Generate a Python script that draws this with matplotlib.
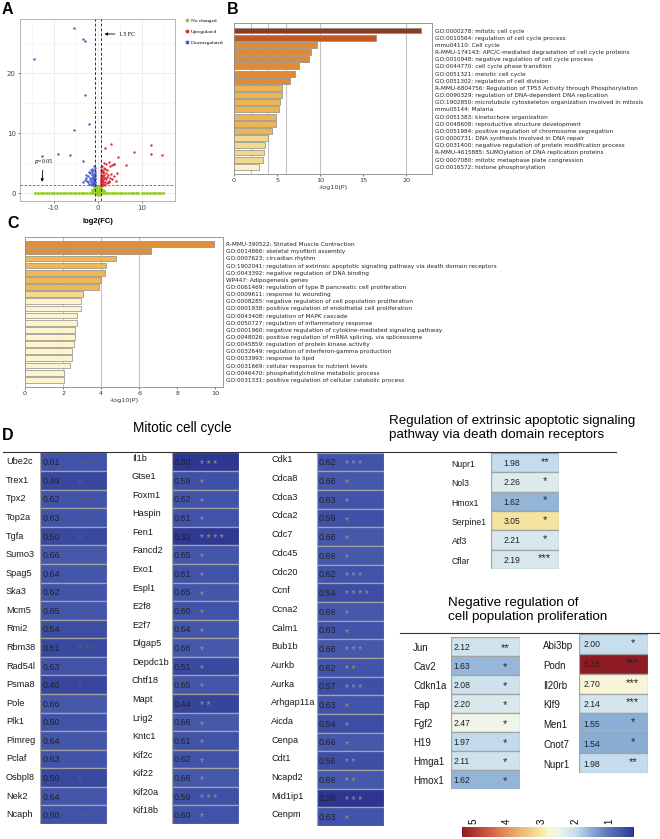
import numpy as np
import matplotlib
matplotlib.use('Agg')
import matplotlib.pyplot as plt
from matplotlib.colors import LinearSegmentedColormap, Normalize
from matplotlib.lines import Line2D
from matplotlib.cm import ScalarMappable

# ---------------- DATA ----------------
# Panel A volcano (log2FC, -log10 p)
down_pts = [(-5.4, 27.5), (-3.5, 25.7), (-2.9, 25.4), (-14.5, 22.4), (-2.9, 16.3),
            (-5.5, 10.6), (-2.0, 11.5), (-12.7, 6.2), (-9.0, 6.6), (-6.4, 6.4), (-3.3, 5.4),
            (-0.62, 1.4), (-0.7, 1.6), (-0.75, 1.9), (-0.8, 2.2), (-0.66, 2.6), (-0.9, 1.5),
            (-0.95, 2.0), (-1.0, 2.4), (-1.1, 1.7), (-0.72, 3.0), (-0.85, 2.8), (-1.2, 2.1),
            (-1.3, 1.5), (-1.45, 2.5), (-1.6, 1.9), (-0.68, 1.8), (-0.78, 3.4), (-1.05, 3.2),
            (-1.15, 2.7), (-1.35, 3.0), (-1.8, 2.2), (-2.0, 1.6), (-2.2, 2.9), (-2.5, 2.0),
            (-0.64, 2.3), (-0.88, 1.35), (-1.25, 3.6), (-1.5, 3.9), (-1.7, 2.6), (-1.9, 3.3),
            (-2.3, 1.8), (-2.7, 2.5), (-3.0, 2.2), (-0.7, 4.2), (-0.95, 4.6), (-1.4, 4.1),
            (-1.1, 3.8), (-2.1, 3.5), (-0.8, 1.45), (-1.6, 1.4), (-3.3, 1.9), (-2.6, 3.1),
            (-1.2, 1.3), (-0.66, 3.7), (-1.0, 1.55), (-0.9, 2.3), (-1.3, 2.4), (-0.75, 2.9)]
up_pts = [(3.0, 8.2), (1.7, 7.6), (12.1, 8.0), (12.1, 6.5), (14.6, 6.4), (8.1, 6.9),
          (4.5, 6.1), (6.4, 4.7), (3.6, 4.9), (3.7, 4.8),
          (0.62, 1.4), (0.7, 1.7), (0.75, 2.0), (0.8, 2.3), (0.66, 2.7), (0.9, 1.5),
          (0.95, 2.1), (1.0, 2.5), (1.1, 1.8), (0.72, 3.1), (0.85, 2.9), (1.2, 2.2),
          (1.3, 1.6), (1.45, 2.6), (1.6, 1.9), (0.68, 1.8), (0.78, 3.5), (1.05, 3.3),
          (1.15, 2.8), (1.35, 3.1), (1.8, 2.3), (2.0, 1.7), (2.2, 3.0), (2.5, 2.0),
          (0.64, 2.4), (0.88, 1.35), (1.25, 3.7), (1.5, 4.0), (1.7, 2.6), (1.9, 3.4),
          (2.3, 1.8), (2.7, 2.5), (3.0, 3.2), (0.7, 4.3), (0.95, 3.9), (1.4, 4.2),
          (1.1, 3.6), (2.1, 3.8), (0.8, 1.45), (1.6, 1.4), (3.3, 2.4), (2.6, 1.9),
          (1.2, 1.3), (0.66, 3.8), (1.0, 1.55), (3.6, 2.8), (4.0, 2.1), (2.8, 4.5),
          (1.9, 4.9), (3.2, 4.7), (2.4, 5.2), (4.4, 3.4), (1.3, 5.0), (0.9, 4.6), (2.0, 2.7)]
nochange_pts = [(-1.4, 0.1), (-1.2, 0.3), (-1.0, 0.6), (-0.8, 0.9), (-0.6, 1.1), (-0.4, 0.5),
                (-0.2, 0.2), (0.0, 0.8), (0.2, 1.2), (0.4, 0.4), (0.6, 0.7), (0.8, 1.0),
                (1.0, 0.3), (1.2, 0.6), (1.4, 0.1), (-0.5, 0.0), (0.5, 0.0), (0.0, 0.0),
                (-0.3, 1.0), (0.3, 0.9), (-0.9, 0.2), (0.9, 0.2), (-0.1, 0.5), (0.1, 0.3),
                (-0.7, 0.4), (0.7, 0.4), (0.0, 1.2), (-0.2, 1.25), (0.25, 0.6), (-0.25, 0.7),
                (-1.1, 0.0), (1.1, 0.0), (0.0, -0.3), (-0.4, -0.2), (0.4, -0.2), (-0.6, 0.75),
                (0.6, 1.2), (-1.3, 0.45), (1.3, 0.4), (-14.3, 0), (-13.6, 0), (-13.0, 0),
                (-12.4, 0), (-11.8, 0), (-11.1, 0), (-10.5, 0), (-9.9, 0), (-9.2, 0), (-8.6, 0),
                (-8.0, 0), (-7.4, 0), (-6.8, 0), (-6.1, 0), (-5.5, 0), (-4.9, 0), (-4.3, 0),
                (-3.7, 0), (-3.1, 0), (-2.5, 0), (-1.9, 0), (1.9, 0), (2.5, 0), (3.1, 0),
                (3.7, 0), (4.3, 0), (4.9, 0), (5.5, 0), (6.1, 0), (6.8, 0), (7.4, 0), (8.0, 0),
                (8.6, 0), (9.2, 0), (9.9, 0), (10.5, 0), (11.1, 0), (11.8, 0), (12.4, 0),
                (13.0, 0), (13.6, 0), (14.2, 0), (14.7, 0)]

# Panel B enrichment
B_terms = ["GO:0000278: mitotic cell cycle",
           "GO:0010564: regulation of cell cycle process",
           "mmu04110: Cell cycle",
           "R-MMU-174143: APC/C-mediated degradation of cell cycle proteins",
           "GO:0010948: negative regulation of cell cycle process",
           "GO:0044770: cell cycle phase transition",
           "GO:0051321: meiotic cell cycle",
           "GO:0051302: regulation of cell division",
           "R-MMU-6804756: Regulation of TP53 Activity through Phosphorylation",
           "GO:0090329: regulation of DNA-dependent DNA replication",
           "GO:1902850: microtubule cytoskeleton organization involved in mitosis",
           "mmu05144: Malaria",
           "GO:0051383: kinetochore organization",
           "GO:0048608: reproductive structure development",
           "GO:0051984: positive regulation of chromosome segregation",
           "GO:0000731: DNA synthesis involved in DNA repair",
           "GO:0031400: negative regulation of protein modification process",
           "R-MMU-4615885: SUMOylation of DNA replication proteins",
           "GO:0007080: mitotic metaphase plate congression",
           "GO:0016572: histone phosphorylation"]
B_vals = [21.7, 16.5, 9.6, 9.0, 8.7, 7.5, 7.1, 6.5, 5.6, 5.6, 5.4, 5.2, 4.9, 4.9, 4.4,
          3.9, 3.6, 3.5, 3.4, 2.9]
B_colors = ["#8c3a22", "#c1581f"] + ["#de8a36"] * 6 + ["#ecb552"] * 7 + ["#f3d88f"] * 4 + ["#fbf2c9"]

# Panel C enrichment
C_terms = ["R-MMU-390522: Striated Muscle Contraction",
           "GO:0014866: skeletal myofibril assembly",
           "GO:0007623: circadian rhythm",
           "GO:1902041: regulation of extrinsic apoptotic signaling pathway via death domain receptors",
           "GO:0043392: negative regulation of DNA binding",
           "WP447: Adipogenesis genes",
           "GO:0061469: regulation of type B pancreatic cell proliferation",
           "GO:0009611: response to wounding",
           "GO:0008285: negative regulation of cell population proliferation",
           "GO:0001938: positive regulation of endothelial cell proliferation",
           "GO:0043408: regulation of MAPK cascade",
           "GO:0050727: regulation of inflammatory response",
           "GO:0001960: negative regulation of cytokine-mediated signaling pathway",
           "GO:0048026: positive regulation of mRNA splicing, via spliceosome",
           "GO:0045859: regulation of protein kinase activity",
           "GO:0032649: regulation of interferon-gamma production",
           "GO:0033993: response to lipid",
           "GO:0031669: cellular response to nutrient levels",
           "GO:0046470: phosphatidylcholine metabolic process",
           "GO:0031331: positive regulation of cellular catabolic process"]
C_vals = [9.95, 6.6, 4.8, 4.24, 4.21, 4.01, 3.87, 3.06, 2.96, 2.94, 2.73, 2.73, 2.64, 2.64,
          2.55, 2.46, 2.46, 2.34, 2.04, 2.04]
C_colors = ["#e08f38"] * 2 + ["#eeb857"] * 5 + ["#f5d98b"] + ["#fdf4c9"] * 12

# Panel D tables
mit1_genes = ["Ube2c", "Trex1", "Tpx2", "Top2a", "Tgfa", "Sumo3", "Spag5", "Ska3", "Mcm5", "Rmi2",
              "Rbm38", "Rad54l", "Psma8", "Pole", "Plk1", "Pimreg", "Pclaf", "Osbpl8", "Nek2", "Ncaph"]
mit1_fc = [0.61, 0.49, 0.62, 0.63, 0.50, 0.66, 0.64, 0.62, 0.65, 0.54, 0.51, 0.63, 0.46, 0.66,
           0.60, 0.64, 0.63, 0.50, 0.64, 0.60]
mit1_sig = ["***", "*", "***", "**", "*", "*", "*", "*", "**", "*", "***", "*", "*", "*", "***",
            "**", "*", "*", "*", "***"]

mit2_genes = ["Il1b", "Gtse1", "Foxm1", "Haspin", "Fen1", "Fancd2", "Exo1", "Espl1", "E2f8", "E2f7",
              "Dlgap5", "Depdc1b", "Chtf18", "Mapt", "Lrig2", "Kntc1", "Kif2c", "Kif22", "Kif20a", "Kif18b"]
mit2_fc = [0.30, 0.59, 0.62, 0.61, 0.32, 0.65, 0.61, 0.65, 0.60, 0.64, 0.66, 0.51, 0.65, 0.44,
           0.66, 0.61, 0.62, 0.66, 0.59, 0.60]
mit2_sig = ["***", "*", "*", "*", "****", "*", "*", "*", "*", "*", "*", "*", "*", "**", "*", "*",
            "*", "*", "***", "*"]

mit3_genes = ["Cdk1", "Cdca8", "Cdca3", "Cdca2", "Cdc7", "Cdc45", "Cdc20", "Ccnf", "Ccna2", "Calm1",
              "Bub1b", "Aurkb", "Aurka", "Arhgap11a", "Aicda", "Cenpa", "Cdt1", "Ncapd2", "Mid1ip1", "Cenpm"]
mit3_fc = [0.62, 0.66, 0.63, 0.59, 0.66, 0.66, 0.62, 0.54, 0.66, 0.63, 0.66, 0.62, 0.57, 0.63,
           0.54, 0.66, 0.56, 0.66, 0.28, 0.63]
mit3_sig = ["***", "*", "*", "*", "*", "*", "***", "****", "*", "*", "***", "**", "***", "*", "*",
            "*", "**", "**", "***", "*"]

apo_genes = ["Nupr1", "Nol3", "Hmox1", "Serpine1", "Atf3", "Cflar"]
apo_fc = [1.98, 2.26, 1.62, 3.05, 2.21, 2.19]
apo_sig = ["**", "*", "*", "*", "*", "***"]

neg1_genes = ["Jun", "Cav2", "Cdkn1a", "Fap", "Fgf2", "H19", "Hmga1", "Hmox1"]
neg1_fc = [2.12, 1.63, 2.08, 2.20, 2.47, 1.97, 2.11, 1.62]
neg1_sig = ["**", "*", "*", "*", "*", "*", "*", "*"]

neg2_genes = ["Abi3bp", "Podn", "Il20rb", "Klf9", "Men1", "Cnot7", "Nupr1"]
neg2_fc = [2.00, 5.33, 2.70, 2.14, 1.55, 1.54, 1.98]
neg2_sig = ["*", "***", "***", "***", "*", "*", "**"]

cbar_ticks = [1, 2, 3, 4, 5]

# ---------------- FIGURE ----------------
W, H = 660, 839
fig = plt.figure(figsize=(6.6, 8.39), dpi=100)
fig.patch.set_facecolor('white')
SANS = ['Liberation Sans', 'DejaVu Sans']
SERIF = ['Liberation Serif', 'DejaVu Serif']
plt.rcParams['axes.unicode_minus'] = False


def box(l, t, r, b):
    return [l / W, 1 - b / H, (r - l) / W, (b - t) / H]


def letter(x, y, s):
    fig.text(x / W, 1 - y / H, s, fontsize=11.5, fontweight='bold', family=SANS,
             ha='left', va='center')


letter(2, 10, 'A')
letter(227, 10, 'B')
letter(7, 224, 'C')
letter(2, 435, 'D')

# ---- Panel A ----
axA = fig.add_axes(box(20, 19, 175, 201))
for pts, col, sz in [(nochange_pts, '#9acd32', 5.0), (down_pts, '#4a5fc4', 3.0), (up_pts, '#d6303c', 3.0)]:
    xs, ys = zip(*pts)
    axA.scatter(xs, ys, s=sz, c=col, lw=0, zorder=3)
axA.set_xlim(-17.7, 17.5)
axA.set_ylim(-1.3, 29)
for xv in (-0.585, 0.585):
    axA.axvline(xv, ls=(0, (3, 2)), color='#333333', lw=0.7, zorder=4)
axA.axhline(1.3, ls=(0, (3, 2)), color='#666666', lw=0.6, zorder=4)
axA.set_xticks([-10, 0, 10])
axA.set_yticks([0, 10, 20])
axA.set_xticks([-15, -5, 5, 15], minor=True)
axA.set_yticks([5, 15, 25], minor=True)
axA.grid(which='major', color='#e6e6e6', lw=0.5)
axA.grid(which='minor', color='#f2f2f2', lw=0.4)
axA.set_axisbelow(True)
axA.tick_params(which='major', labelsize=5, length=1.5, width=0.5, colors='#444444', pad=1.5)
axA.tick_params(which='minor', length=0)
for sp in axA.spines.values():
    sp.set_color('#aaaaaa')
    sp.set_linewidth(0.6)
axA.set_xlabel('log2(FC)', fontsize=5.5, fontweight='bold', family=SANS, labelpad=5)
axA.annotate('1.5 FC', xy=(1.5, 26.5), xytext=(4.8, 26.5), fontsize=4.2, family=SERIF,
             ha='left', va='center',
             arrowprops=dict(arrowstyle='-|>', color='black', lw=0.6, mutation_scale=4,
                             shrinkA=1, shrinkB=0))
axA.annotate('$p$=0.05', xy=(-12.7, 1.9), xytext=(-12.4, 4.5), fontsize=4.2, family=SERIF,
             ha='center', va='bottom',
             arrowprops=dict(arrowstyle='-|>', color='black', lw=0.6, mutation_scale=4,
                             shrinkA=1, shrinkB=0))
legA = [Line2D([], [], marker='o', ls='', color=c, markersize=1.8, label=l)
        for c, l in [('#9acd32', 'No changed'), ('#d6303c', 'Upregulated'), ('#4a5fc4', 'Downregulated')]]
axA.legend(handles=legA, loc='upper left', bbox_to_anchor=(185 / W, 1 - 18 / H),
           bbox_transform=fig.transFigure, frameon=False, prop={'family': SERIF, 'size': 3.8},
           handlelength=0.6, handletextpad=0.5, labelspacing=1.2, borderaxespad=0, borderpad=0)


# ---- Enrichment bar panels ----
def enrich(ax, vals, terms, colors, xlim, xticks, grid, ylim):
    y = np.arange(len(vals))
    ax.barh(y, vals, height=0.82, color=colors, edgecolor='#8a8a8a', linewidth=0.5, zorder=3)
    for g in grid:
        ax.axvline(g, color='#c4c4c4', lw=0.8, zorder=1)
    ax.set_xlim(*xlim)
    ax.set_ylim(*ylim)
    ax.set_xticks(xticks)
    ax.yaxis.tick_right()
    ax.set_yticks(y)
    ax.set_yticklabels(terms, fontsize=4.15, family=['DejaVu Sans'], color='#222222')
    ax.tick_params(axis='y', length=0, pad=2.5)
    ax.tick_params(axis='x', labelsize=4.6, length=1.5, width=0.5, pad=1.5, colors='#333333')
    ax.set_xlabel('-log10(P)', fontsize=4.6, labelpad=1.5, color='#333333')
    for sp in ax.spines.values():
        sp.set_color('#999999')
        sp.set_linewidth(0.7)


axB = fig.add_axes(box(234, 23, 432, 174))
enrich(axB, B_vals, B_terms, B_colors, (0, 23), [0, 5, 10, 15, 20], [2, 4, 6, 10, 20], (20.0, -1.05))

axC = fig.add_axes(box(25, 237, 223, 387))
enrich(axC, C_vals, C_terms, C_colors, (0, 10.4), [0, 2, 4, 6, 8, 10], [2, 4, 6], (20.0, -1.0))

# ---- Panel D ----
cvals = [0.28, 0.6, 1.0, 1.55, 2.0, 2.45, 2.8, 3.05, 3.6, 4.2, 4.8, 5.33]
ccols = ['#2c3590', '#4153a8', '#5b73b6', '#8cafd5', '#c6deee', '#eef5eb', '#faf5cf',
         '#f5e3a0', '#eeb677', '#df7f52', '#bf4536', '#8e1b24']
lo, hi = 0.28, 5.33
cmap = LinearSegmentedColormap.from_list('fc', [((v - lo) / (hi - lo), c) for v, c in zip(cvals, ccols)])
norm = Normalize(lo, hi)


def table(l, t, r, b, genes, fc, sig, lab_x, val_x, val_ha, star_x, star_ha,
          lab_fs, val_fs, star_fs, star_color, lab_dy=0.0, star_dy=0.0, spaced=False):
    ax = fig.add_axes(box(l, t, r, b))
    n = len(fc)
    y = np.arange(n)
    ax.barh(y, np.ones(n), left=0, height=1.0, color=cmap(norm(fc)), edgecolor='#a3a3a3', linewidth=0.9)
    ax.set_xlim(0, 1)
    ax.set_ylim(n - 0.5, -0.5)
    ax.axis('off')
    tr = ax.get_yaxis_transform()
    for i in range(n):
        ax.text(lab_x, i + lab_dy, genes[i], transform=tr, ha='left', va='center',
                fontsize=lab_fs, family=SANS, color='#1a1a1a', clip_on=False)
        ax.text(val_x, i + 0.05, f'{fc[i]:.2f}', transform=tr, ha=val_ha, va='center',
                fontsize=val_fs, family=SANS, color='#222222')
        s = ' '.join(sig[i]) if spaced else sig[i]
        ax.text(star_x, i + star_dy, s, transform=tr, ha=star_ha, va='center',
                fontsize=star_fs, family=SANS, color=star_color)
    return ax


table(40, 452.5, 107, 824, mit1_genes, mit1_fc, mit1_sig, -0.51, 0.04, 'left', 0.56, 'left',
      6.6, 6.4, 7.0, '#5e5e6c', star_dy=0.15, spaced=True)
table(172, 452.5, 239, 824, mit2_genes, mit2_fc, mit2_sig, -0.60, 0.02, 'left', 0.42, 'left',
      6.6, 6.4, 7.0, '#a09878', lab_dy=-0.2, star_dy=0.15, spaced=True)
table(317, 452.5, 384, 826, mit3_genes, mit3_fc, mit3_sig, -0.68, 0.02, 'left', 0.42, 'left',
      6.6, 6.4, 7.0, '#a09878', lab_dy=-0.1, star_dy=0.15, spaced=True)
table(491, 453, 559, 569, apo_genes, apo_fc, apo_sig, -0.58, 0.31, 'center', 0.79, 'center',
      6.2, 6.2, 8.0, '#222222', lab_dy=0.1, star_dy=-0.05)
table(451, 637, 520, 789, neg1_genes, neg1_fc, neg1_sig, -0.55, 0.04, 'left', 0.78, 'center',
      7.0, 6.2, 8.0, '#222222', lab_dy=0.1, star_dy=0.1)
table(579, 634, 648, 773, neg2_genes, neg2_fc, neg2_sig, -0.52, 0.07, 'left', 0.78, 'center',
      7.0, 6.2, 8.0, '#222222', lab_dy=0.1, star_dy=-0.05)

fig.text(182 / W, 1 - 428 / H, 'Mitotic cell cycle', ha='center', va='center', fontsize=9.8, family=SANS)
fig.text(389 / W, 1 - 428 / H, 'Regulation of extrinsic apoptotic signaling\npathway via death domain receptors',
         ha='left', va='center', fontsize=9.6, family=SANS, linespacing=1.15)
fig.text(448 / W, 1 - 610 / H, 'Negative regulation of\ncell population proliferation',
         ha='left', va='center', fontsize=9.6, family=SANS, linespacing=1.15)

fig.add_artist(Line2D([3 / W, 616 / W], [1 - 451.5 / H] * 2, transform=fig.transFigure,
                      color='#333333', lw=0.8))
fig.add_artist(Line2D([400 / W, 659 / W], [1 - 633 / H] * 2, transform=fig.transFigure,
                      color='#333333', lw=0.8))

cax = fig.add_axes(box(462, 827, 634, 837))
cb = fig.colorbar(ScalarMappable(norm=norm, cmap=cmap), cax=cax, orientation='horizontal')
cax.invert_xaxis()
cb.set_ticks(cbar_ticks)
cax.xaxis.set_ticks_position('top')
cb.outline.set_visible(False)
cax.tick_params(length=0, labelsize=7, pad=2)
for lab in cax.get_xticklabels():
    lab.set_rotation(90)
    lab.set_family(SANS)

fig.savefig('out.png', dpi=100, facecolor='white')
